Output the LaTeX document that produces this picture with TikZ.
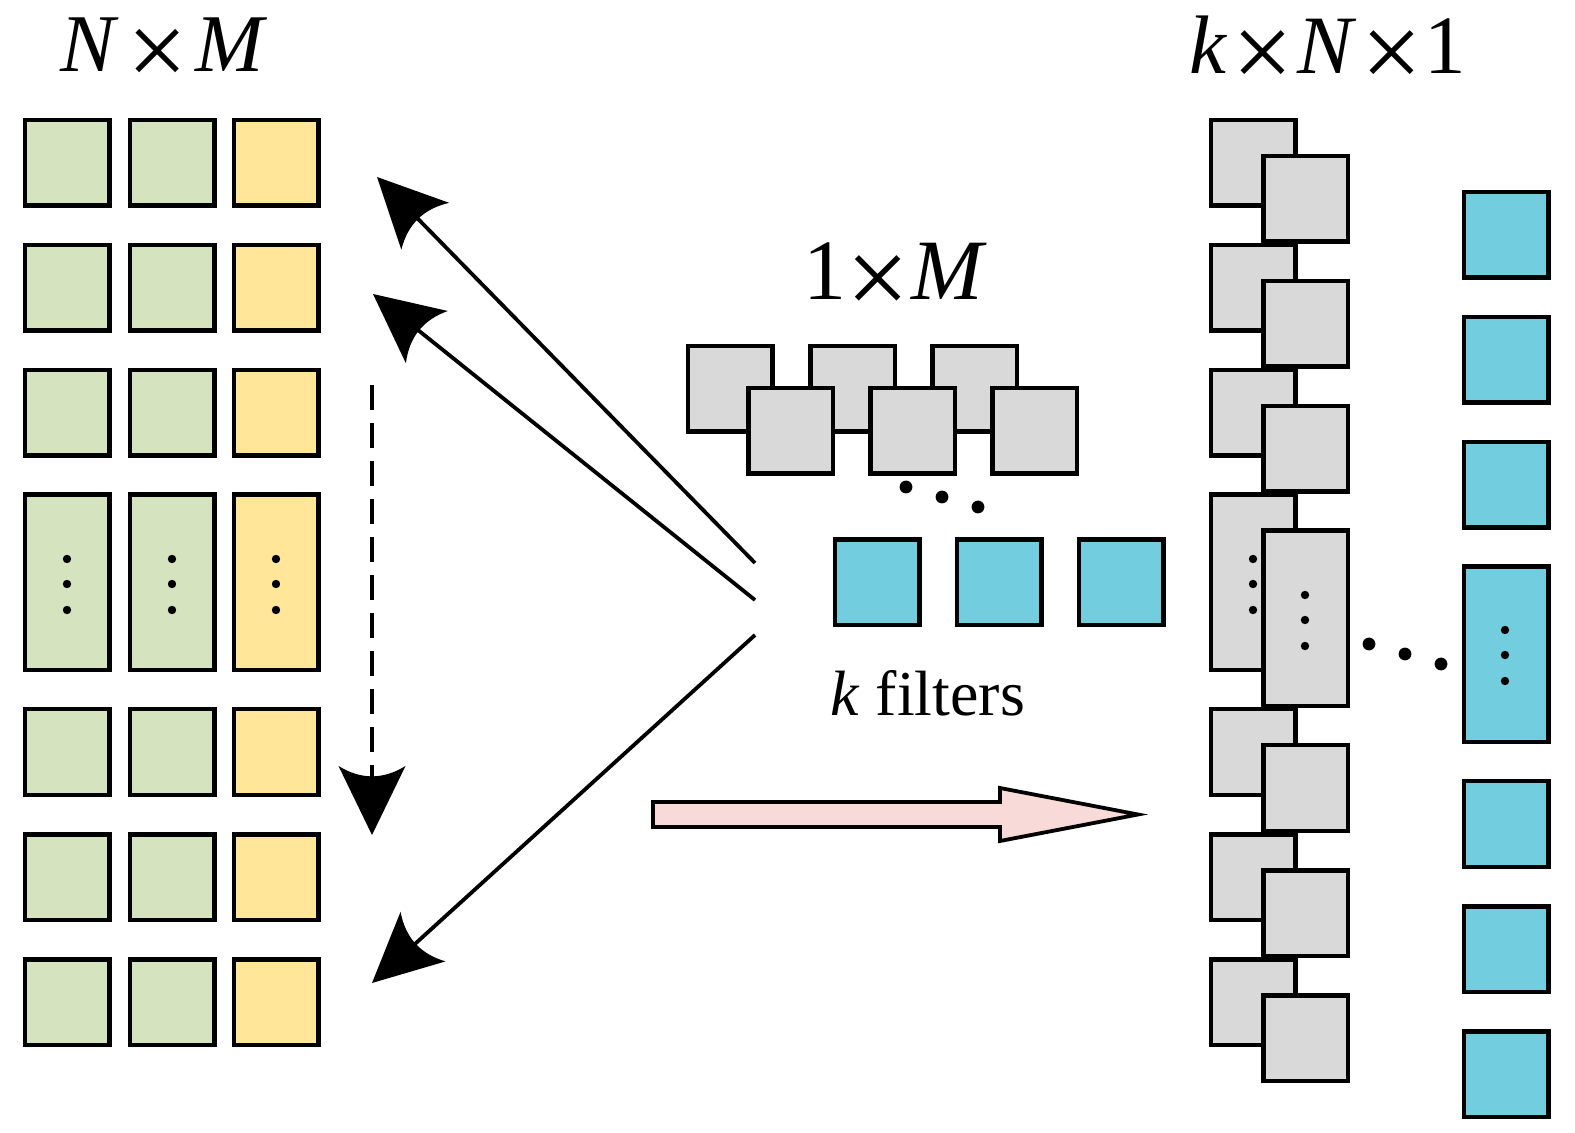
\documentclass[tikz,border=0pt]{standalone}
\usepackage{fontspec}
\setmainfont{Liberation Serif}
\usetikzlibrary{arrows.meta}
\definecolor{cgreen}{RGB}{214,227,191}
\definecolor{cyellow}{RGB}{255,230,153}
\definecolor{cgray}{RGB}{217,217,217}
\definecolor{ccyan}{RGB}{114,206,222}
\definecolor{cpink}{RGB}{248,218,216}
\pgfdeclarearrow{
  name = CStealth,
  parameters = {\the\pgfarrowlength,\the\pgfarrowwidth},
  setup code = {
    \pgfarrowssettipend{0pt}
    \pgfarrowssetlineend{-0.8\pgfarrowlength}
    \pgfarrowssetvisualbackend{-\pgfarrowlength}
    \pgfarrowssetbackend{-\pgfarrowlength}
    \pgfarrowshullpoint{0pt}{0pt}
    \pgfarrowsupperhullpoint{-\pgfarrowlength}{.5\pgfarrowwidth}
    \pgfarrowssavethe\pgfarrowlength
    \pgfarrowssavethe\pgfarrowwidth
  },
  drawing code = {
    \pgfsetdash{}{0pt}
    \pgfpathmoveto{\pgfpointorigin}
    \pgfpathlineto{\pgfpoint{-\pgfarrowlength}{.5\pgfarrowwidth}}
    \pgfpathquadraticcurveto{\pgfpoint{-.7\pgfarrowlength}{0pt}}{\pgfpoint{-\pgfarrowlength}{-.5\pgfarrowwidth}}
    \pgfpathclose
    \pgfusepathqfill
  },
  defaults = {length=34.5pt, width=33.5pt}
}
\newcommand{\bigtimes}{\raisebox{-0.18em}{\scalebox{1.3}{×}}}
\begin{document}
\begin{tikzpicture}[x=0.5pt,y=-0.5pt,
  cell/.style={draw=black,line width=2.25pt,minimum width=42.25pt,minimum height=42.75pt,inner sep=0pt,outer sep=0pt},
  tallcell/.style={cell,minimum height=87.75pt},
  dot/.style={circle,fill=black,draw=none,inner sep=0pt,minimum size=4.2pt},
  bigdot/.style={circle,fill=black,draw=none,inner sep=0pt,minimum size=6.4pt},
  big/.style={-{CStealth[length=34.5pt,width=33.5pt]},line width=1.9pt},
  lbl/.style={inner sep=0pt,anchor=base west}]
\useasboundingbox (0,0) rectangle (1575,1133);

% ---------- left N x M grid ----------
\foreach \r/\y in {1/163,2/288,3/413,5/752,6/877,7/1002}{
  \node[cell,fill=cgreen]  (L\r-a) at (67,\y) {};
  \node[cell,fill=cgreen]  (L\r-b) at (172,\y) {};
  \node[cell,fill=cyellow] (L\r-c) at (276,\y) {};
}
\node[tallcell,fill=cgreen]  (L4-a) at (67,582.5) {};
\node[tallcell,fill=cgreen]  (L4-b) at (172,582.5) {};
\node[tallcell,fill=cyellow] (L4-c) at (276,582.5) {};
\foreach \x in {67,172,276}{
  \foreach \y in {559,584,610}{
    \node[dot] (ld-\x-\y) at (\x,\y) {};
  }
}

% ---------- titles ----------
\node[lbl,font=\fontsize{41pt}{41pt}\selectfont] (tNM) at (60,72)
  {\textit{N}\hspace{0.1em}\bigtimes\hspace{0.1em}\textit{M}};
\node[lbl,font=\fontsize{43pt}{43pt}\selectfont] (t1M) at (803,300)
  {1\bigtimes\hspace{0.02em}\textit{M}};
\node[lbl,font=\fontsize{41.5pt}{41.5pt}\selectfont] (tkN1) at (1189,74)
  {\textit{k}\hspace{0.06em}\bigtimes\hspace{0.05em}\textit{N}\hspace{0.06em}\bigtimes\hspace{0.03em}1};
\node[lbl,font=\fontsize{32pt}{32pt}\selectfont] (tkf) at (830,716)
  {\textit{k} filters};

% ---------- middle filters ----------
\foreach \i/\x in {1/730,2/852.5,3/974.5}{
  \node[cell,fill=cgray] (mb\i) at (\x,389) {};
}
\foreach \i/\x in {1/790.5,2/912.5,3/1034.5}{
  \node[cell,fill=cgray] (mf\i) at (\x,431) {};
}
\node[bigdot] (md1) at (906,487) {};
\node[bigdot] (md2) at (942,497) {};
\node[bigdot] (md3) at (978,507) {};
\foreach \i/\x in {1/877,2/999,3/1121}{
  \node[cell,fill=ccyan] (mc\i) at (\x,582.5) {};
}

% ---------- right k x N x 1 ----------
\foreach \r/\y in {1/163,2/288,3/413}{
  \node[cell,fill=cgray] (rb\r) at (1253,\y) {};
  \node[cell,fill=cgray] (rf\r) at (1305.5,\y+36) {};
}
\node[tallcell,fill=cgray] (rb4) at (1253,582.5) {};
\node[tallcell,fill=cgray] (rf4) at (1305.5,618.5) {};
\foreach \r/\y in {5/752,6/877,7/1002}{
  \node[cell,fill=cgray] (rb\r) at (1253,\y) {};
  \node[cell,fill=cgray] (rf\r) at (1305.5,\y+36) {};
}
\foreach \y in {559,584,610}{ \node[dot] (rbd-\y) at (1253,\y) {}; }
\foreach \y in {595,620,646}{ \node[dot] (rfd-\y) at (1305,\y) {}; }
\node[bigdot] (rd1) at (1369,644) {};
\node[bigdot] (rd2) at (1405,654) {};
\node[bigdot] (rd3) at (1441,664) {};

\foreach \r/\y in {1/235,2/360,3/485,5/824,6/949,7/1074}{
  \node[cell,fill=ccyan] (rc\r) at (1506,\y) {};
}
\node[tallcell,fill=ccyan] (rc4) at (1506,654.5) {};
\foreach \y in {630,655,681}{ \node[dot] (rcd-\y) at (1505,\y) {}; }

% ---------- arrows ----------
\coordinate (a1s) at (755,563);  \coordinate (a1e) at (377,177);
\coordinate (a2s) at (755,600);  \coordinate (a2e) at (373,294);
\coordinate (a3s) at (755,635);  \coordinate (a3e) at (372,983);
\coordinate (ds)  at (372,385);  \coordinate (de)  at (372,835);
\draw[big] (a1s) -- (a1e);
\draw[big] (a2s) -- (a2e);
\draw[big] (a3s) -- (a3e);
\draw[big,line width=1.7pt,dash pattern=on 12.5pt off 6.5pt] (ds) -- (de);

% ---------- pink block arrow ----------
\draw[fill=cpink,line width=1.9pt,line join=miter]
  (653,802) -- (1000,802) -- (1000,788) -- (1138,814.5) -- (1000,841)
  -- (1000,827) -- (653,827) -- cycle;
\end{tikzpicture}
\end{document}
